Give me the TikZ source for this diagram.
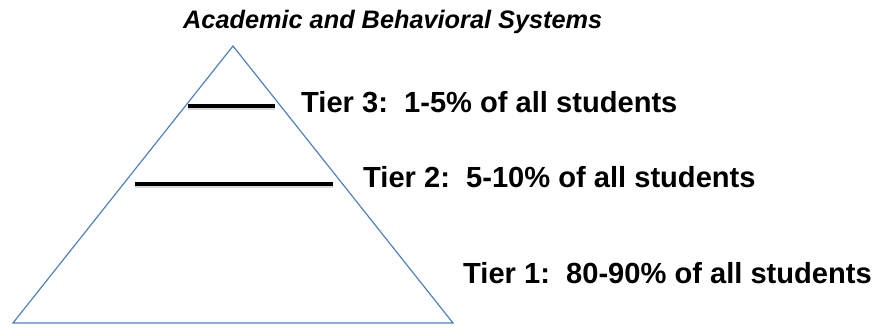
\documentclass[tikz,border=0pt]{standalone}
\usepackage{fontspec}
\setmainfont{Liberation Sans}
\definecolor{pyramidblue}{RGB}{79,129,189}
\begin{document}
\begin{tikzpicture}[x=1pt, y=-1pt,
  tierlabel/.style={anchor=base west, inner sep=0pt, font=\fontsize{29.1}{31}\selectfont\bfseries},
  tierbar/.style={line width=4.5pt, black},
  barshadow/.style={line width=4.5pt, black, opacity=0.15}]
\useasboundingbox (0,0) rectangle (876,329);

% The pyramid
\coordinate (apex) at (233,46);
\coordinate (baseL) at (13,323);
\coordinate (baseR) at (453,323);
\draw[pyramidblue, line width=1.2pt] (apex) -- (baseL) -- (baseR) -- cycle;

% Tier dividers (with a soft shadow)
\coordinate (t3l) at (188,106);
\coordinate (t3r) at (275,106);
\coordinate (t2l) at (135,184);
\coordinate (t2r) at (333,184);
\draw[barshadow] ([yshift=-2pt]t3l) -- ([yshift=-2pt]t3r);
\draw[barshadow] ([yshift=-2pt]t2l) -- ([yshift=-2pt]t2r);
\draw[tierbar] (t3l) -- (t3r);
\draw[tierbar] (t2l) -- (t2r);

% Title and tier labels
\node[anchor=base west, inner sep=0pt, font=\fontsize{25.3}{27}\selectfont\bfseries\itshape] (title) at (183,29) {Academic and Behavioral Systems};
\node[tierlabel] (tier3) at (301,112) {Tier 3:\ \ 1-5\% of all students};
\node[tierlabel] (tier2) at (363,187) {Tier 2:\ \ 5-10\% of all students};
\node[tierlabel] (tier1) at (463,283) {Tier 1:\ \ 80-90\% of all students};
\end{tikzpicture}
\end{document}
